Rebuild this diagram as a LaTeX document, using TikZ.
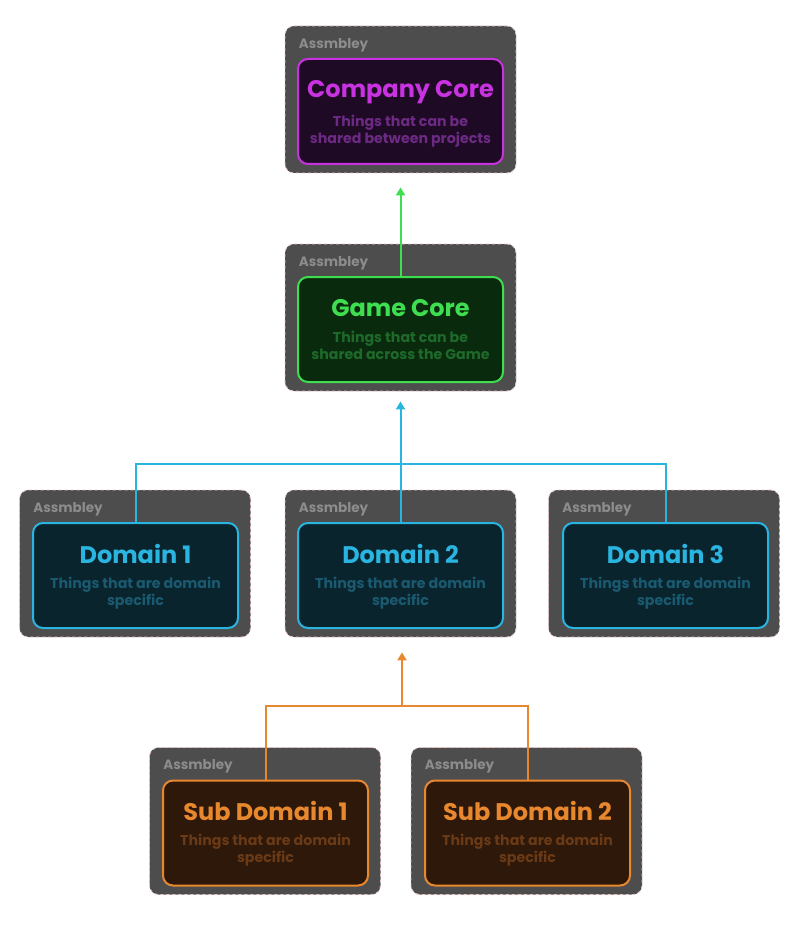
\documentclass[tikz,border=0pt]{standalone}
\usepackage{fontspec}
\setmainfont{Poppins}[BoldFont={* Bold}]
\usetikzlibrary{arrows.meta,positioning,calc}
\definecolor{outerfill}{HTML}{4D4D4D}
\definecolor{outerline}{HTML}{E8C4C4}
\definecolor{asmtext}{HTML}{8C8C8C}
\definecolor{purB}{HTML}{C832E0}\definecolor{purF}{HTML}{1E0A24}\definecolor{purS}{HTML}{6C2A84}
\definecolor{grnB}{HTML}{3EDE50}\definecolor{grnF}{HTML}{0A2A0E}\definecolor{grnS}{HTML}{1E6A2A}
\definecolor{bluB}{HTML}{2AB4E0}\definecolor{bluF}{HTML}{0A242E}\definecolor{bluS}{HTML}{1A5A70}
\definecolor{orgB}{HTML}{E8882E}\definecolor{orgF}{HTML}{2E180A}\definecolor{orgS}{HTML}{6A3A16}
\tikzset{
  asmbox/.style={draw=outerline, fill=outerfill, dashed, line width=0.8pt, rounded corners=9pt,
    minimum width=231pt, minimum height=147pt, inner sep=0pt},
  asmlabel/.style={text=asmtext, font=\fontsize{13.5}{14}\selectfont\bfseries, anchor=west, inner sep=0pt},
  core/.style={draw=#1B, fill=#1F, line width=2pt, rounded corners=10pt,
    minimum width=205pt, minimum height=105pt, inner sep=0pt},
  ttl/.style={text=#1B, font=\fontsize{24}{26}\selectfont\bfseries, inner sep=0pt, anchor=base},
  sub/.style={text=#1S, font=\fontsize{14.2}{17}\selectfont\bfseries, align=center, inner sep=0pt},
  link/.style={draw=#1B, line width=2pt},
  arr/.style={draw=#1B, line width=2pt, -{Triangle[length=8pt,width=9pt]}},
}
\begin{document}
\begin{tikzpicture}[x=1pt,y=-1pt]
\useasboundingbox (0,0) rectangle (800,928);
% outer assemblies
\node[asmbox] (oA) at (400.5,99.5) {};
\node[asmbox] (oB) at (400.5,317.5) {};
\node[asmbox] (oC) at (135,563.5) {};
\node[asmbox] (oD) at (400.5,563.5) {};
\node[asmbox] (oE) at (664,563.5) {};
\node[asmbox] (oF) at (265,821) {};
\node[asmbox] (oG) at (526.5,821) {};
\foreach \n in {oA,oB,oC,oD,oE,oF,oG}
  \node[asmlabel] (\n-lbl) at ($(\n.north west)+(14,19.5)$) {Assmbley};
% inner boxes
\node[core=pur] (cA) at (400.5,111.5) {};
\node[core=grn] (cB) at (400.5,329.5) {};
\node[core=blu] (cC) at (135.5,575.5) {};
\node[core=blu] (cD) at (400.5,575.5) {};
\node[core=blu] (cE) at (665.5,575.5) {};
\node[core=org] (cF) at (265.5,833) {};
\node[core=org] (cG) at (527.5,833) {};
% titles and subtitles
\node[ttl=pur] (tA) at ($(cA.north)+(0,40)$) {Company Core};
\node[sub=pur] (sA) at ($(cA.north)+(0,73)$) {Things that can be\\shared between projects};
\node[ttl=grn] (tB) at ($(cB.north)+(0,40.5)$) {Game Core};
\node[sub=grn] (sB) at ($(cB.north)+(0,69)$) {Things that can be\\shared across the Game};
\node[ttl=blu] (tC) at ($(cC.north)+(0,41)$) {Domain 1};
\node[sub=blu] (sC) at ($(cC.north)+(0,71)$) {Things that are domain\\specific};
\node[ttl=blu] (tD) at ($(cD.north)+(0,41)$) {Domain 2};
\node[sub=blu] (sD) at ($(cD.north)+(0,71)$) {Things that are domain\\specific};
\node[ttl=blu] (tE) at ($(cE.north)+(0,41)$) {Domain 3};
\node[sub=blu] (sE) at ($(cE.north)+(0,71)$) {Things that are domain\\specific};
\node[ttl=org] (tF) at ($(cF.north)+(0,41)$) {Sub Domain 1};
\node[sub=org] (sF) at ($(cF.north)+(0,71)$) {Things that are domain\\specific};
\node[ttl=org] (tG) at ($(cG.north)+(0,41)$) {Sub Domain 2};
\node[sub=org] (sG) at ($(cG.north)+(0,71)$) {Things that are domain\\specific};
% connectors
\coordinate (jB) at (400,464);
\coordinate (jO) at (402,706);
\draw[arr=grn] (cB.north) -- ($(oA.south)+(0,14)$);
\draw[link=blu] (cC.north) |- (jB) -| (cE.north);
\draw[arr=blu] (cD.north) -- ($(oB.south)+(0,10)$);
\draw[link=org] (cF.north) |- (jO) -| (cG.north);
\draw[arr=org] (jO) -- ($(jO |- oD.south)+(0,15)$);
\end{tikzpicture}
\end{document}
